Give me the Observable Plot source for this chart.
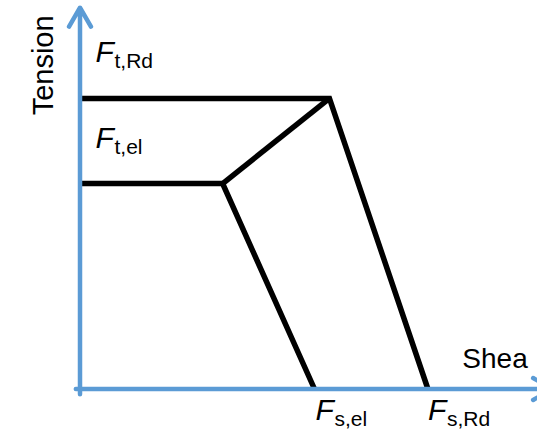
<!DOCTYPE html>
<html>
<head>
<meta charset="utf-8">
<script src="https://cdn.jsdelivr.net/npm/d3@7"></script>
<script src="https://cdn.jsdelivr.net/npm/@observablehq/plot@0.6"></script>
<style>
  html, body { margin: 0; padding: 0; background: #ffffff; }
  #chart svg { display: block; }
</style>
</head>
<body>
<div id="chart"></div>
<script>
// Interaction curves (shear, tension) in units of the resistance values
const innerShear   = [0, 0.41, 0.674];
const innerTension = [0.707, 0.707, 0];
const outerShear   = [0, 0.717, 1.0];
const outerTension = [1.0, 1.0, 0];
const linkShear    = [0.41, 0.717];
const linkTension  = [0.707, 1.0];

// Axis arrows (start / end)
const axisX1 = [0, -0.012];
const axisY1 = [-0.018, 0];
const axisX2 = [0, 1.357];
const axisY2 = [1.3124, 0];

// Value labels: main letter + subscript
const labelMain = ["F", "F", "F", "F"];
const labelSub  = ["t,Rd", "t,el", "s,el", "s,Rd"];
const labelX    = [0.0445, 0.0445, 0.677, 1.0];
const labelY    = [1.125, 0.831, -0.105, -0.105];

// Axis titles (the shear title is cut off at the right edge in the original)
const titleText = ["Tension", "Shea"];
const titleX    = [-0.078, 1.099];
const titleY    = [1.114, 0.074];
const titleRot  = [-90, 0];
const titleAnchor = ["middle", "start"];

const pts = (xs, ys) => xs.map((x, i) => ({x, y: ys[i]}));
const curves = [pts(innerShear, innerTension), pts(outerShear, outerTension), pts(linkShear, linkTension)];
const axes = axisX1.map((x1, i) => ({x1, y1: axisY1[i], x2: axisX2[i], y2: axisY2[i]}));
const labels = labelMain.map((m, i) => ({main: m, sub: labelSub[i], x: labelX[i], y: labelY[i]}));
const titles = titleText.map((t, i) => ({t, x: titleX[i], y: titleY[i], r: titleRot[i], a: titleAnchor[i]}));

const font = "'Liberation Sans', Arial, Helvetica, sans-serif";

const chart = Plot.plot({
  width: 537,
  height: 433,
  x: {domain: [0, 1.315], range: [79.5, 537], axis: null},
  y: {domain: [0, 1.32], range: [388.5, 5], axis: null},
  style: {fontFamily: font, background: "#ffffff", color: "#000000"},
  marks: [
    ...curves.map(c => Plot.line(c, {x: "x", y: "y", stroke: "#000000", strokeWidth: 5.5, strokeLinejoin: "miter", strokeLinecap: "butt", strokeMiterlimit: 10})),
    Plot.arrow(axes, {x1: "x1", y1: "y1", x2: "x2", y2: "y2", stroke: "#5B9BD5", strokeWidth: 4.5, headLength: 7.3, headAngle: 60}),
    Plot.text(labels, {x: "x", y: "y", text: "main", fontSize: 30, fontStyle: "italic", textAnchor: "start", lineAnchor: "bottom", fill: "#000000"}),
    Plot.text(labels, {x: "x", y: "y", text: "sub", fontSize: 21, textAnchor: "start", lineAnchor: "bottom", dx: 19, dy: 6, fill: "#000000"}),
    ...titles.map(t => Plot.text([t], {x: "x", y: "y", text: "t", rotate: t.r, fontSize: t.r ? 29 : 28, textAnchor: t.a, lineAnchor: "bottom", fill: "#000000"}))
  ]
});

document.getElementById("chart").appendChild(chart);
</script>
</body>
</html>
